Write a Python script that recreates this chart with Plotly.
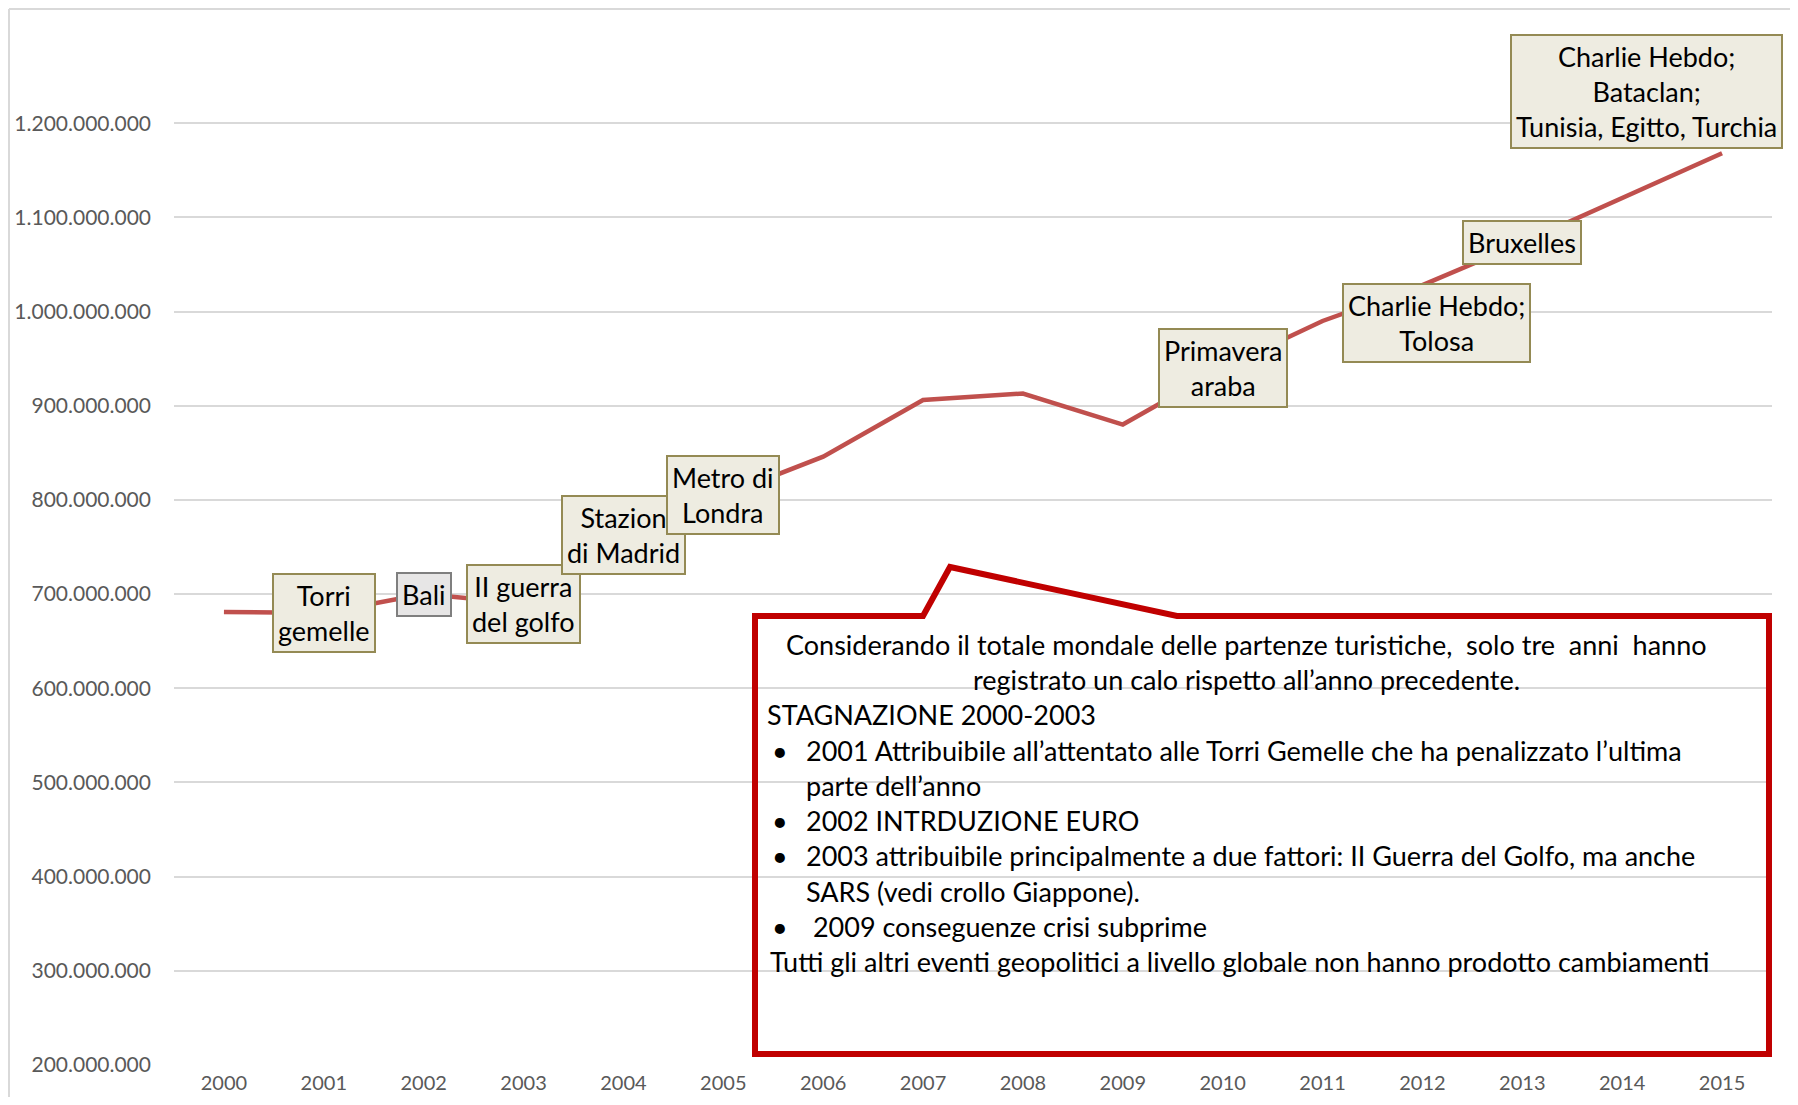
import plotly.graph_objects as go

# ── Data ────────────────────────────────────────────────────────────────────
years = [str(y) for y in range(2000, 2016)]
departures = [
    681e6, 680e6, 700e6, 690e6, 763e6, 805e6, 846e6, 906e6,
    913e6, 880e6, 940e6, 990e6, 1028e6, 1073e6, 1120e6, 1168e6,
]

y_ticks = [200e6, 300e6, 400e6, 500e6, 600e6, 700e6, 800e6, 900e6,
           1000e6, 1100e6, 1200e6]

event_years = ["2001", "2002", "2003", "2004", "2005", "2010", "2012", "2013", "2015"]
event_labels = [
    "Torri<br>gemelle",
    "Bali",
    "II guerra<br>del golfo",
    "Stazion<br>di Madrid",
    "Metro di<br>Londra",
    "Primavera<br>araba",
    "Charlie Hebdo;<br>Tolosa",
    "Bruxelles",
    "Charlie Hebdo;<br>Bataclan;<br>Tunisia, Egitto, Turchia",
]

note_lines = [
    "Considerando il totale mondale delle partenze turistiche,  solo tre  anni  hanno",
    "registrato un calo rispetto all’anno precedente.",
    "STAGNAZIONE 2000-2003",
    "2001 Attribuibile all’attentato alle Torri Gemelle che ha penalizzato l’ultima",
    "parte dell’anno",
    "2002 INTRDUZIONE EURO",
    "2003 attribuibile principalmente a due fattori: II Guerra del Golfo, ma anche",
    "SARS (vedi crollo Giappone).",
    " 2009 conseguenze crisi subprime",
    "Tutti gli altri eventi geopolitici a livello globale non hanno prodotto cambiamenti",
]

# ── Style ───────────────────────────────────────────────────────────────────
# page body has an 8px margin, so the figure is drawn 8px in from the corner
OFF = 8
W, H = 1798 - 2 * OFF, 1105 - 2 * OFF
L, T = 174 - OFF, 29 - OFF
R = W - (1772 - OFF)
B = H - (1065 - OFF)
FONT = "Lato, 'Open Sans', sans-serif"
LINE_RED = "#C0504D"
CALLOUT_RED = "#C00000"
GRID = "#D9D9D9"
TICK = "#595959"


def px(x):
    # page pixel -> paper x
    return (x - OFF - L) / (W - L - R)


def py(y):
    # page pixel -> paper y
    return (H - B - (y - OFF)) / (H - T - B)


fig = go.Figure()

fig.add_trace(go.Scatter(
    x=years,
    y=departures,
    mode="lines",
    line=dict(color=LINE_RED, width=4.5),
    hoverinfo="skip",
    showlegend=False,
))

# data labels (two were dragged away from their point in the original)
shifts = {"2012": (14, -38), "2015": (-76, 62)}
lookup = dict(zip(years, departures))
for yr, txt in zip(event_years, event_labels):
    dx, dy = shifts.get(yr, (0, 0))
    grey = yr == "2002"
    fig.add_annotation(
        x=years.index(yr), y=lookup[yr], text=txt, showarrow=False,
        xshift=dx, yshift=dy,
        font=dict(family=FONT, size=27, color="#000000"),
        bgcolor="#E7E6E6" if grey else "#EEECE1",
        bordercolor="#7F7F7F" if grey else "#948A54",
        borderwidth=2, borderpad=4,
    )

# callout box with pointer
pts = [(755, 616), (923, 616), (950, 567), (1177, 616), (1769, 616),
       (1769, 1054), (755, 1054)]
path = "M " + " L ".join(f"{px(x):.5f},{py(y):.5f}" for x, y in pts) + " Z"
fig.add_shape(type="path", path=path, xref="paper", yref="paper",
              line=dict(color=CALLOUT_RED, width=6), fillcolor="rgba(0,0,0,0)",
              layer="above")

# callout text
note_pos = [
    ("center", 1246, 644),
    ("center", 1246, 679),
    ("left", 765, 714),
    ("left", 804, 750),
    ("left", 804, 785),
    ("left", 804, 820),
    ("left", 804, 855),
    ("left", 804, 891),
    ("left", 804, 926),
    ("left", 768, 961),
]
bullets = [3, 5, 6, 8]
for i, (line, (anchor, x, y)) in enumerate(zip(note_lines, note_pos)):
    fig.add_annotation(
        x=px(x), y=py(y), xref="paper", yref="paper", text=line,
        showarrow=False, xanchor=anchor, yanchor="middle",
        font=dict(family=FONT, size=27, color="#000000"),
    )
    if i in bullets:
        fig.add_annotation(
            x=px(770), y=py(y), xref="paper", yref="paper", text="•",
            showarrow=False, xanchor="left", yanchor="middle",
            font=dict(family=FONT, size=27, color="#000000"),
        )

# chart area border (left and top edges visible)
fig.add_shape(type="line", xref="paper", yref="paper",
              x0=px(9), x1=px(9), y0=py(9), y1=py(1120),
              line=dict(color=GRID, width=2))
fig.add_shape(type="line", xref="paper", yref="paper",
              x0=px(9), x1=px(1820), y0=py(9), y1=py(9),
              line=dict(color=GRID, width=2))

fig.update_layout(
    width=W, height=H,
    margin=dict(l=L, r=R, t=T, b=B, autoexpand=False),
    paper_bgcolor="white",
    plot_bgcolor="white",
    separators=",.",
    font=dict(family=FONT, color=TICK, size=21),
    showlegend=False,
    xaxis=dict(
        type="category",
        range=[-0.5, len(years) - 0.5],
        showgrid=False, zeroline=False, showline=False,
        tickfont=dict(family=FONT, size=20, color=TICK),
        ticklabelstandoff=4,
        automargin=False,
        fixedrange=True,
    ),
    yaxis=dict(
        range=[200e6, 1300e6],
        tickvals=y_ticks,
        tickformat=",d",
        gridcolor=GRID, gridwidth=1.5,
        zeroline=False, showline=False,
        tickfont=dict(family=FONT, size=21, color=TICK),
        ticklabelstandoff=22,
        automargin=False,
        fixedrange=True,
    ),
)

fig.write_html("out.html")
